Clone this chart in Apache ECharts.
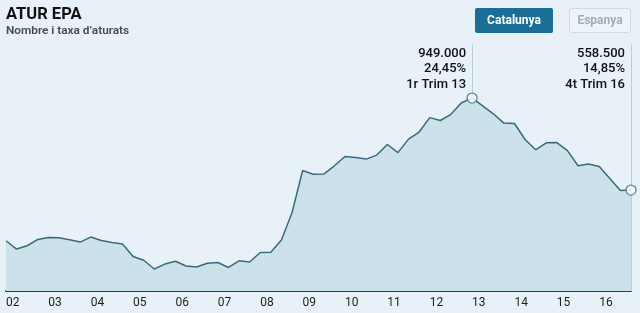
<!DOCTYPE html>
<html>
<head>
<meta charset="utf-8">
<style>
html,body{margin:0;padding:0;background:#e7f1f7;}
#c{width:640px;height:313px;}
</style>
<script src="https://cdn.jsdelivr.net/npm/echarts@6/dist/echarts.min.js"></script>
</head>
<body>
<div id="c"></div>
<script>
// ---- data ----
const yearLabels = ['02','03','04','05','06','07','08','09','10','11','12','13','14','15','16'];
const quarterOrdinals = ['1r','2n','3r','4t'];
const quarters = [];
yearLabels.forEach(y => quarterOrdinals.forEach(o => quarters.push(o + ' Trim ' + y)));
const unemployed = [
  343300, 308100, 322100, 348800, 357300, 356000, 347500, 337800, 359000, 344600, 336100, 329700,
  276700, 260500, 223600, 244400, 256300, 236300, 231700, 247800, 251200, 230000, 258400, 252900,
  293600, 295000, 346700, 462100, 641700, 625600, 626400, 661600, 701100, 696900, 690100, 707100,
  752000, 717700, 775000, 805100, 866200, 853900, 880200, 929100, 949000, 916300, 882400, 842900,
  841200, 773300, 729600, 759300, 760100, 726200, 661600, 669300, 658700, 607700, 556400, 558500
];
const annotatedIdx = [44, 59];
const annotatedRates = ['24,45%', '14,85%'];
const axisMin = 130000, axisMax = 1200000;
const annotationLevel = 1073000;
const guideTop = 1180000;

const fmt = v => String(v).replace(/\B(?=(\d{3})+(?!\d))/g, '.');
const FONT = 'Roboto, "Open Sans", sans-serif';

const chart = echarts.init(document.getElementById('c'), null, {renderer:'canvas'});
chart.setOption({
  backgroundColor: '#e7f1f7',
  animation: false,
  title: {
    text: 'ATUR EPA',
    subtext: 'Nombre i taxa d’aturats',
    left: 6, top: 6, padding: 0, itemGap: 2,
    textStyle: {fontFamily: FONT, fontSize: 16.5, fontWeight: 'bold', color: '#111'},
    subtextStyle: {fontFamily: FONT, fontSize: 11.8, fontWeight: 600, color: '#4a4a4a'}
  },
  graphic: [
    {type:'rect', shape:{x:475, y:8, width:78, height:25, r:2}, style:{fill:'#1b6f96'}},
    {type:'text', x:514, y:20.5, style:{text:'Catalunya', fill:'#fff', font:'bold 12px ' + FONT, align:'center', verticalAlign:'middle'}},
    {type:'rect', shape:{x:569.5, y:8.5, width:61, height:24, r:2}, style:{fill:'#edf4f8', stroke:'#cddbe3', lineWidth:1}},
    {type:'text', x:600, y:20.5, style:{text:'Espanya', fill:'#a3adb3', font:'bold 12px ' + FONT, align:'center', verticalAlign:'middle'}}
  ],
  grid: {left: 6, right: 9, top: 39, bottom: 22},
  xAxis: {
    type: 'category',
    data: quarters,
    boundaryGap: false,
    axisLine: {show: true, lineStyle: {color: '#2e3c44', width: 2}},
    axisTick: {show: false},
    splitLine: {show: false},
    axisLabel: {
      interval: 3,
      align: 'left',
      margin: 6,
      fontFamily: FONT, fontSize: 12, color: '#1e1e1e',
      formatter: (v, i) => yearLabels[Math.floor(i / 4)]
    }
  },
  yAxis: {
    type: 'value', min: axisMin, max: axisMax, show: false,
    splitLine: {show: false}
  },
  series: [
    {
      type: 'line',
      data: unemployed,
      symbol: 'none',
      lineStyle: {color: '#3b6a7d', width: 1.5},
      areaStyle: {color: '#cce2eb', opacity: 1},
      z: 2,
      markLine: {
        silent: true, symbol: 'none',
        label: {show: false},
        lineStyle: {color: '#b9ced9', width: 1, type: 'solid'},
        data: [
          [{coord: [annotatedIdx[0], guideTop]}, {coord: [annotatedIdx[0], unemployed[annotatedIdx[0]]]}],
          [{coord: [annotatedIdx[1], guideTop]}, {coord: [annotatedIdx[1], axisMin]}]
        ]
      },
      markPoint: {
        silent: true,
        symbol: 'circle', symbolSize: 0,
        label: {
          show: true, position: 'left', distance: 6,
          fontFamily: FONT, fontSize: 13, fontWeight: 500, lineHeight: 15.5, color: '#111', align: 'right'
        },
        data: annotatedIdx.map((idx, k) => ({
          coord: [idx, annotationLevel],
          label: {formatter: fmt(unemployed[idx]) + '\n' + annotatedRates[k] + '\n' + quarters[idx]}
        }))
      }
    },
    {
      type: 'scatter',
      data: annotatedIdx.map(idx => [idx, unemployed[idx]]),
      symbol: 'circle', symbolSize: 10,
      itemStyle: {color: '#ffffff', borderColor: '#3b6a7d', borderWidth: 1.3},
      z: 5
    }
  ]
});
</script>
</body>
</html>
